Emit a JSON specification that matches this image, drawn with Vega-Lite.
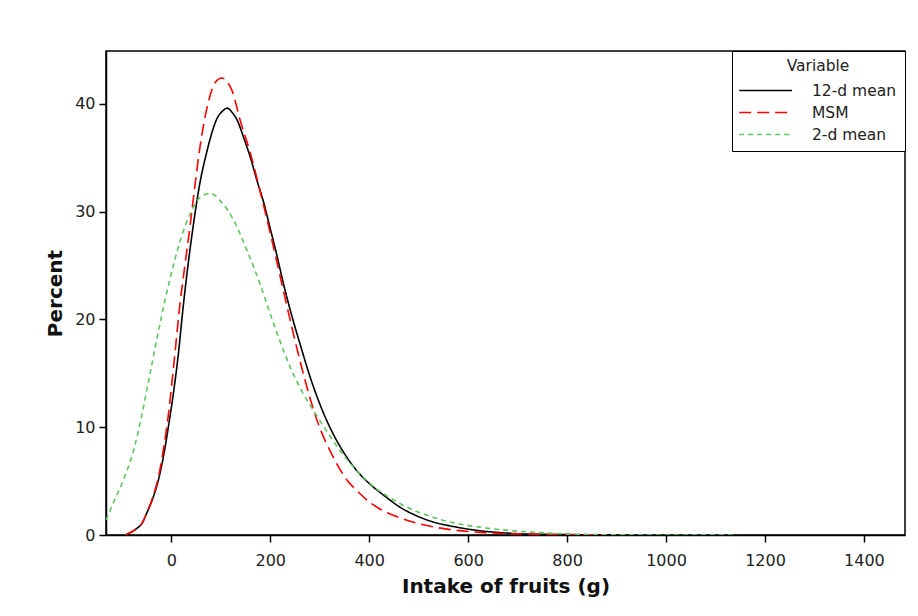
{
  "$schema": "https://vega.github.io/schema/vega-lite/v6.json",
  "width": 799,
  "height": 484,
  "autosize": {"type": "none"},
  "padding": {"left": 106, "top": 51, "right": 13, "bottom": 81},
  "background": "white",
  "config": {
    "font": "DejaVu Sans",
    "view": {"stroke": "black", "strokeWidth": 1.5},
    "axis": {
      "domainColor": "black", "domainWidth": 1.5, "tickColor": "black", "tickWidth": 1.5,
      "labelFont": "DejaVu Sans", "labelFontSize": 16, "labelColor": "#222",
      "titleFont": "DejaVu Sans", "titleFontSize": 20, "titleFontWeight": "bold", "titleColor": "#111",
      "grid": false
    }
  },
  "data": {"values": [
    {"x": -93, "y": 0, "v": "12-d mean"},
    {"x": -80, "y": 0.3, "v": "12-d mean"},
    {"x": -70, "y": 0.6, "v": "12-d mean"},
    {"x": -59, "y": 1.1, "v": "12-d mean"},
    {"x": -50, "y": 2.0, "v": "12-d mean"},
    {"x": -39, "y": 3.2, "v": "12-d mean"},
    {"x": -25, "y": 5.3, "v": "12-d mean"},
    {"x": -15, "y": 7.5, "v": "12-d mean"},
    {"x": -5, "y": 10.3, "v": "12-d mean"},
    {"x": 5, "y": 13.4, "v": "12-d mean"},
    {"x": 15, "y": 17.1, "v": "12-d mean"},
    {"x": 22, "y": 20.3, "v": "12-d mean"},
    {"x": 30, "y": 23.6, "v": "12-d mean"},
    {"x": 45, "y": 28.9, "v": "12-d mean"},
    {"x": 58, "y": 32.7, "v": "12-d mean"},
    {"x": 71, "y": 35.4, "v": "12-d mean"},
    {"x": 80, "y": 37.0, "v": "12-d mean"},
    {"x": 92, "y": 38.6, "v": "12-d mean"},
    {"x": 103, "y": 39.3, "v": "12-d mean"},
    {"x": 113, "y": 39.6, "v": "12-d mean"},
    {"x": 123, "y": 39.2, "v": "12-d mean"},
    {"x": 133, "y": 38.5, "v": "12-d mean"},
    {"x": 146, "y": 36.9, "v": "12-d mean"},
    {"x": 160, "y": 35.0, "v": "12-d mean"},
    {"x": 173, "y": 32.9, "v": "12-d mean"},
    {"x": 187, "y": 30.8, "v": "12-d mean"},
    {"x": 199, "y": 28.6, "v": "12-d mean"},
    {"x": 210, "y": 26.6, "v": "12-d mean"},
    {"x": 230, "y": 22.7, "v": "12-d mean"},
    {"x": 245, "y": 20.1, "v": "12-d mean"},
    {"x": 261, "y": 17.6, "v": "12-d mean"},
    {"x": 281, "y": 14.6, "v": "12-d mean"},
    {"x": 305, "y": 11.6, "v": "12-d mean"},
    {"x": 328, "y": 9.3, "v": "12-d mean"},
    {"x": 355, "y": 7.2, "v": "12-d mean"},
    {"x": 382, "y": 5.6, "v": "12-d mean"},
    {"x": 402, "y": 4.7, "v": "12-d mean"},
    {"x": 429, "y": 3.7, "v": "12-d mean"},
    {"x": 463, "y": 2.56, "v": "12-d mean"},
    {"x": 495, "y": 1.8, "v": "12-d mean"},
    {"x": 530, "y": 1.2, "v": "12-d mean"},
    {"x": 564, "y": 0.84, "v": "12-d mean"},
    {"x": 598, "y": 0.56, "v": "12-d mean"},
    {"x": 630, "y": 0.36, "v": "12-d mean"},
    {"x": 665, "y": 0.22, "v": "12-d mean"},
    {"x": 700, "y": 0.12, "v": "12-d mean"},
    {"x": 750, "y": 0.06, "v": "12-d mean"},
    {"x": 800, "y": 0.03, "v": "12-d mean"},
    {"x": 900, "y": 0.01, "v": "12-d mean"},
    {"x": -93, "y": 0, "v": "MSM"},
    {"x": -80, "y": 0.3, "v": "MSM"},
    {"x": -70, "y": 0.6, "v": "MSM"},
    {"x": -59, "y": 1.1, "v": "MSM"},
    {"x": -50, "y": 2.0, "v": "MSM"},
    {"x": -39, "y": 3.3, "v": "MSM"},
    {"x": -25, "y": 5.6, "v": "MSM"},
    {"x": -15, "y": 8.2, "v": "MSM"},
    {"x": -5, "y": 11.5, "v": "MSM"},
    {"x": 5, "y": 15.8, "v": "MSM"},
    {"x": 18, "y": 21.6, "v": "MSM"},
    {"x": 28, "y": 25.2, "v": "MSM"},
    {"x": 38, "y": 28.7, "v": "MSM"},
    {"x": 48, "y": 32.5, "v": "MSM"},
    {"x": 58, "y": 36.0, "v": "MSM"},
    {"x": 72, "y": 39.6, "v": "MSM"},
    {"x": 89, "y": 42.0, "v": "MSM"},
    {"x": 102, "y": 42.4, "v": "MSM"},
    {"x": 112, "y": 42.1, "v": "MSM"},
    {"x": 123, "y": 41.2, "v": "MSM"},
    {"x": 139, "y": 38.5, "v": "MSM"},
    {"x": 160, "y": 35.4, "v": "MSM"},
    {"x": 180, "y": 31.8, "v": "MSM"},
    {"x": 200, "y": 28.0, "v": "MSM"},
    {"x": 220, "y": 24.0, "v": "MSM"},
    {"x": 244, "y": 19.2, "v": "MSM"},
    {"x": 261, "y": 16.0, "v": "MSM"},
    {"x": 281, "y": 12.6, "v": "MSM"},
    {"x": 298, "y": 10.2, "v": "MSM"},
    {"x": 321, "y": 7.8, "v": "MSM"},
    {"x": 355, "y": 5.1, "v": "MSM"},
    {"x": 380, "y": 3.9, "v": "MSM"},
    {"x": 402, "y": 3.0, "v": "MSM"},
    {"x": 430, "y": 2.2, "v": "MSM"},
    {"x": 450, "y": 1.8, "v": "MSM"},
    {"x": 497, "y": 1.1, "v": "MSM"},
    {"x": 530, "y": 0.75, "v": "MSM"},
    {"x": 564, "y": 0.5, "v": "MSM"},
    {"x": 600, "y": 0.32, "v": "MSM"},
    {"x": 632, "y": 0.22, "v": "MSM"},
    {"x": 700, "y": 0.1, "v": "MSM"},
    {"x": 800, "y": 0.04, "v": "MSM"},
    {"x": 880, "y": 0.01, "v": "MSM"},
    {"x": -132, "y": 1.4, "v": "2-d mean"},
    {"x": -117, "y": 3.0, "v": "2-d mean"},
    {"x": -96, "y": 5.2, "v": "2-d mean"},
    {"x": -76, "y": 7.9, "v": "2-d mean"},
    {"x": -63, "y": 10.4, "v": "2-d mean"},
    {"x": -42, "y": 15.2, "v": "2-d mean"},
    {"x": -22, "y": 19.8, "v": "2-d mean"},
    {"x": -5, "y": 23.3, "v": "2-d mean"},
    {"x": 18, "y": 27.3, "v": "2-d mean"},
    {"x": 38, "y": 29.8, "v": "2-d mean"},
    {"x": 58, "y": 31.3, "v": "2-d mean"},
    {"x": 79, "y": 31.7, "v": "2-d mean"},
    {"x": 99, "y": 31.0, "v": "2-d mean"},
    {"x": 126, "y": 29.2, "v": "2-d mean"},
    {"x": 153, "y": 26.4, "v": "2-d mean"},
    {"x": 180, "y": 23.2, "v": "2-d mean"},
    {"x": 200, "y": 20.5, "v": "2-d mean"},
    {"x": 227, "y": 17.1, "v": "2-d mean"},
    {"x": 241, "y": 15.5, "v": "2-d mean"},
    {"x": 261, "y": 13.6, "v": "2-d mean"},
    {"x": 295, "y": 11.0, "v": "2-d mean"},
    {"x": 350, "y": 7.3, "v": "2-d mean"},
    {"x": 396, "y": 5.0, "v": "2-d mean"},
    {"x": 463, "y": 2.9, "v": "2-d mean"},
    {"x": 530, "y": 1.63, "v": "2-d mean"},
    {"x": 564, "y": 1.2, "v": "2-d mean"},
    {"x": 598, "y": 0.9, "v": "2-d mean"},
    {"x": 665, "y": 0.5, "v": "2-d mean"},
    {"x": 733, "y": 0.25, "v": "2-d mean"},
    {"x": 800, "y": 0.1, "v": "2-d mean"},
    {"x": 888, "y": 0.02, "v": "2-d mean"},
    {"x": 1000, "y": 0.0, "v": "2-d mean"},
    {"x": 1144, "y": 0.0, "v": "2-d mean"}
  ]},
  "mark": {"type": "line", "interpolate": "monotone", "strokeWidth": 1.6, "clip": true},
  "encoding": {
    "x": {
      "field": "x", "type": "quantitative",
      "scale": {"domain": [-132, 1483], "nice": false, "zero": false},
      "axis": {"values": [0, 200, 400, 600, 800, 1000, 1200, 1400], "format": "d", "tickSize": 7, "labelPadding": 10, "title": "Intake of fruits (g)", "titlePadding": 8}
    },
    "y": {
      "field": "y", "type": "quantitative",
      "scale": {"domain": [0, 44.9], "nice": false},
      "axis": {"values": [0, 10, 20, 30, 40], "format": "d", "tickSize": 7, "labelPadding": 4, "title": "Percent", "titlePadding": 9}
    },
    "color": {
      "field": "v", "type": "nominal", "title": "Variable",
      "scale": {"domain": ["12-d mean", "MSM", "2-d mean"], "range": ["#000000", "#ff0000", "#5fc55f"]},
      "legend": {
        "orient": "top-right", "offset": 0, "strokeColor": "black", "fillColor": "white",
        "padding": 8, "symbolType": "M-1.26,0H6.3", "symbolSize": 196, "symbolStrokeWidth": 1.6,
        "labelFont": "DejaVu Sans", "labelFontSize": 15.5, "labelColor": "#222", "labelOffset": 56,
        "titleFont": "DejaVu Sans", "titleFontSize": 15.5, "titleFontWeight": "normal", "titleColor": "#222",
        "titleAnchor": "middle", "titlePadding": 8, "rowPadding": 5
      }
    },
    "strokeDash": {
      "field": "v", "type": "nominal", "title": "Variable",
      "scale": {"domain": ["12-d mean", "MSM", "2-d mean"], "range": [[1, 0], [12, 6], [5, 4]]}
    }
  }
}
